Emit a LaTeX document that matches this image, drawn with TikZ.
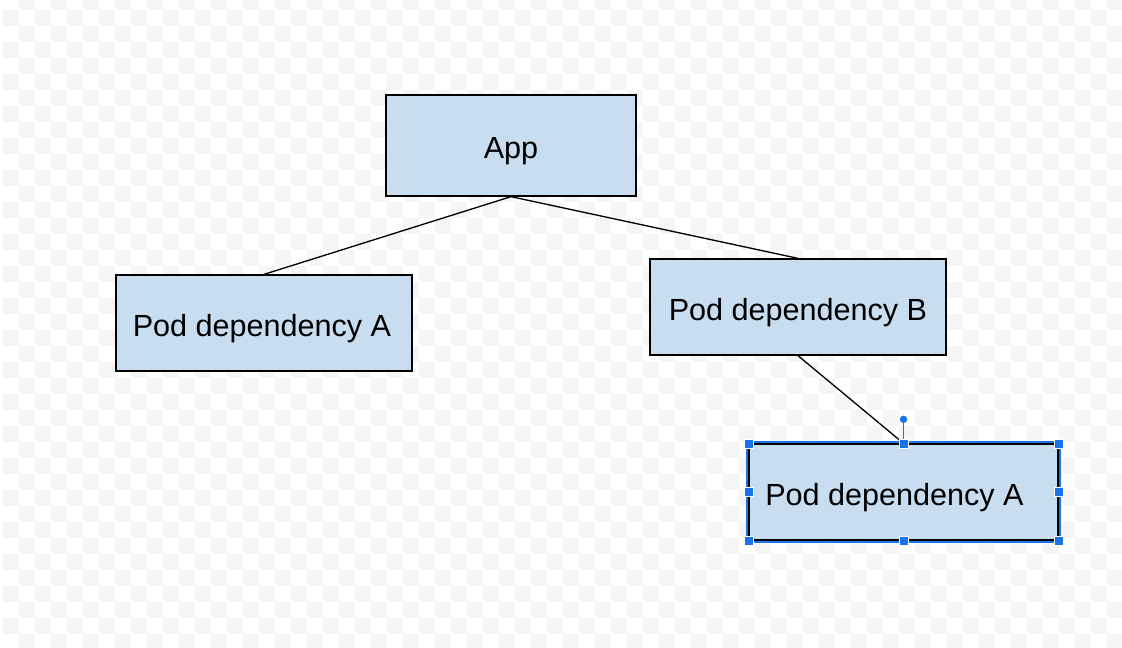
\documentclass[tikz,border=0pt]{standalone}
\usepackage{fontspec}
\setmainfont{Liberation Sans}
\usetikzlibrary{positioning}

\definecolor{boxfill}{RGB}{200,222,240}
\definecolor{checker}{RGB}{245,245,245}
\definecolor{selblue}{RGB}{26,115,232}

\begin{document}
\begin{tikzpicture}[
  x=0.02cm,y=-0.02cm,
  font=\fontsize{17.4pt}{20pt}\selectfont,
  b/.style={draw,fill=boxfill,line width=0.75pt,minimum height=1.92cm,inner sep=0pt,
            text height=0.66cm,text depth=0.13cm},
  c/.style={line width=0.75pt},
  hdl/.style={fill=selblue,draw=white,line width=0.4pt,minimum size=0.18cm,inner sep=0pt},
]
  \useasboundingbox (0,0) rectangle (1122,647);
  % transparent canvas
  \begin{scope}
    \clip (0,0) rectangle (1122,647);
    \foreach \r in {0,...,41}{
      \foreach \c in {0,...,70}{
        \ifodd\numexpr\r+\c\relax
          \fill[checker] (3+16*\c,-6+16*\r) rectangle ++(16,16);
        \fi
      }
    }
  \end{scope}

  \node[b,minimum width=5cm,minimum height=2.02cm] (app) at (511,145.5) {App};
  \node[b,minimum width=5.92cm] (pa)  at (264,323) {\hspace*{-0.08cm}Pod dependency A};
  \node[b,minimum width=5.92cm] (pb)  at (798,307) {Pod dependency B};
  \node[b,minimum width=6.18cm] (pa2) at (903.5,492) {\hspace*{-0.36cm}Pod dependency A};

  \draw[c] (app.south)--(pa.north);
  \draw[c] (app.south)--(pb.north);
  \draw[c] (pb.south)--(pa2.north);

  % selection of the last box
  \draw[selblue,line width=1.1pt] ([shift={(-1,-1)}]pa2.north west) rectangle ([shift={(1,1)}]pa2.south east);
  \coordinate (rot) at ([yshift=0.48cm]pa2.north);
  \draw[selblue,line width=0.6pt] (pa2.north)--(rot);
  \fill[selblue] (rot) circle (0.075cm);
  \foreach \an in {north west,north,north east,east,south east,south,south west,west}
    \node[hdl] at (pa2.\an) {};
\end{tikzpicture}
\end{document}
